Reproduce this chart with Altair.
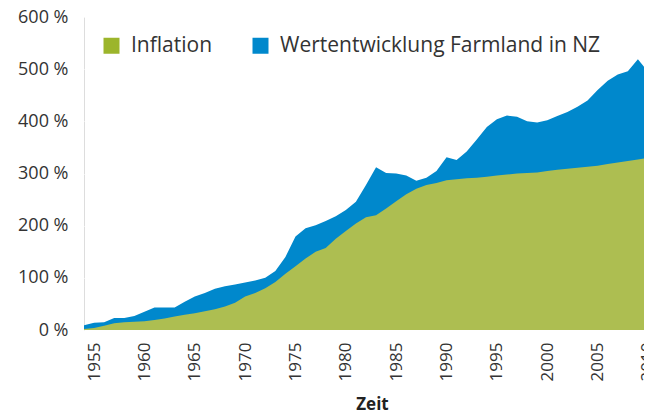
import altair as alt
import pandas as pd

years = list(range(1954, 2012))
inflation = [2, 4, 8, 13, 15, 16, 17, 19, 22, 26,
             29, 32, 36, 40, 45, 52, 64, 71, 80, 92,
             108, 122, 137, 150, 157, 175, 190, 204, 216, 220,
             233, 247, 260, 271, 278, 282, 287, 289, 291, 292,
             294, 296, 298, 300, 301, 302, 305, 307, 309, 311,
             313, 315, 318, 321, 324, 327, 330, 332]
farmland = [9, 14, 15, 23, 23, 27, 35, 43, 43, 43,
            54, 64, 71, 79, 84, 87, 91, 95, 100, 113,
            140, 179, 195, 201, 209, 218, 230, 246, 278, 312,
            301, 300, 296, 286, 292, 305, 331, 326, 342, 365,
            389, 404, 411, 409, 400, 398, 402, 410, 418, 428,
            440, 460, 478, 490, 496, 519, 495, 494]

series_names = ["Inflation", "Wertentwicklung Farmland in NZ"]
legend_colors = ["#9cb52b", "#0088cc"]
inflation_color = "#adbe51"
farmland_color = "#0088cc"
x_ticks = list(range(1955, 2011, 5))
y_ticks = [0, 100, 200, 300, 400, 500, 600]

FONT = "Open Sans"
TXT = "#333333"

df = pd.DataFrame({"Jahr": years, "Inflation": inflation, "Farmland": farmland})
legend_df = pd.DataFrame({"Serie": series_names, "Jahr": [1960, 1960], "Wert": [0, 0]})

x_enc = alt.X(
    "Jahr:Q",
    scale=alt.Scale(domain=[1954, 2010.4], nice=False, zero=False),
    axis=alt.Axis(
        values=x_ticks, format="d", labelAngle=270, labelAlign="right",
        labelBaseline="middle", labelPadding=12, labelFontSize=17,
        labelFont=FONT, labelColor=TXT, domain=False, ticks=False, grid=False,
        title="Zeit", titleFont=FONT, titleFontSize=17, titleFontWeight="bold",
        titleColor="#222222", titleX=288, titleY=79, titleBaseline="alphabetic",
        labelOverlap=False, labelFlush=False,
    ),
)

y_axis = alt.Axis(
    values=y_ticks, labelExpr="datum.value + ' %'", domain=False, ticks=False,
    labelPadding=16, labelFontSize=18, labelFont=FONT, labelColor=TXT,
    gridColor="white", gridWidth=1.2, gridOpacity=1, title=None,
    labelFlush=False,
)
y_scale = alt.Scale(domain=[0, 600], nice=False)

blue = alt.Chart(df).mark_area(color=farmland_color, clip=True, opacity=1).encode(
    x=x_enc,
    y=alt.Y("Farmland:Q", scale=y_scale, axis=y_axis),
)
green = alt.Chart(df).mark_area(color=inflation_color, clip=True, opacity=1).encode(
    x=x_enc,
    y=alt.Y("Inflation:Q", scale=y_scale, axis=y_axis),
)
legend_layer = alt.Chart(legend_df).mark_square(opacity=0).encode(
    x=x_enc,
    y=alt.Y("Wert:Q", scale=y_scale, axis=y_axis),
    color=alt.Color(
        "Serie:N",
        scale=alt.Scale(domain=series_names, range=legend_colors),
        legend=alt.Legend(
            orient="none", legendX=17, legendY=18, direction="horizontal",
            title=None, symbolType="square", symbolSize=256, symbolStrokeWidth=0,
            symbolOpacity=1, labelFontSize=21, labelFont=FONT, labelColor=TXT,
            labelOffset=9, columnPadding=37, padding=0, labelLimit=500,
        ),
    ),
)

chart = alt.layer(blue, green, legend_layer).properties(
    width=568, height=313,
    autosize=alt.AutoSizeParams(type="none"),
    padding={"left": 76, "top": 9, "right": -8, "bottom": 81},
).configure_view(fill="#e1e1e1", stroke=None).configure(background="white")

chart.save("out.html", embed_options={"renderer": "svg", "actions": False})
